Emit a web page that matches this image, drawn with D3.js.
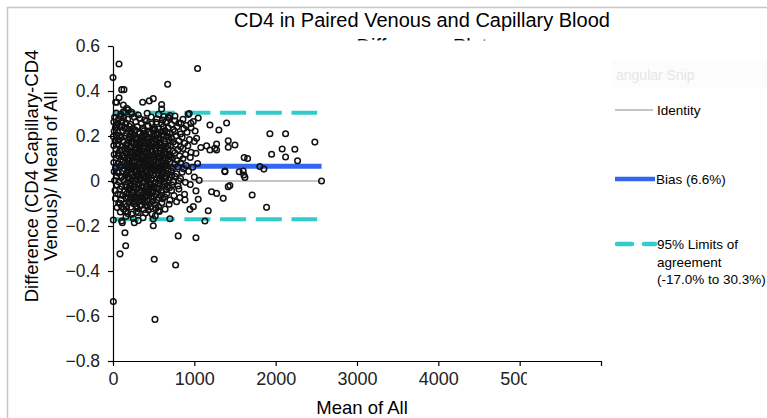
<!DOCTYPE html>
<html>
<head>
<meta charset="utf-8">
<script src="https://cdn.jsdelivr.net/npm/d3@7"></script>
<style>
  body { margin: 0; background: #fff; }
  svg { display: block; font-family: "Liberation Sans", Arial, sans-serif; }
</style>
</head>
<body>
<svg id="chart" width="767" height="418"></svg>
<script>
// Bland-Altman data: [mean of all, relative difference]
const points = [
  [0,0.46],[74,0.52],[107,0.406],[135,0.406],[45,0.35],[74,0.37],[33,0.35],
  [1040,0.50],[672,0.43],[365,0.35],[446,0.356],[495,0.366],[598,0.34],[598,0.32],
  [127,0.338],[168,0.323],[188,0.316],[230,0.305],[127,0.308],[98,0.286],
  [627,0.286],[679,0.283],[762,0.289],[835,0.256],[925,0.296],[958,0.256],[987,0.264],[1192,0.249],[1302,0.227],[1397,0.258],
  [45,0.249],[86,0.241],[937,0.30],[1048,0.28],
  [1929,0.21],[2122,0.21],[2482,0.173],[2080,0.142],[2236,0.141],[1950,0.119],[2122,0.107],[2269,0.09],
  [1613,0.104],[1655,0.10],[1806,0.064],[1855,0.053],[1376,0.044],[1552,0.041],[1601,0.044],[1609,0.027],[1622,0.016],
  [2564,0.0],[1437,-0.02],[1711,-0.062],[1888,-0.117],
  [1417,0.179],[1499,0.16],[1417,0.15],[1274,0.164],[1253,0.145],[1274,0.138],[1151,0.156],[1192,0.138],[1028,0.19],
  [4,-0.173],[115,-0.185],[262,-0.185],[311,-0.176],[495,-0.199],[147,-0.23],[156,-0.288],[86,-0.324],[507,-0.348],
  [770,-0.373],[802,-0.244],[1020,-0.252],[4,-0.536],[516,-0.615],
  [107,-0.178],[250,-0.166],[495,-0.169],[700,-0.168],[1130,-0.178],[1171,-0.132],[946,-0.126],[987,-0.114],
  [86,-0.099],[107,-0.114],[156,-0.136],[230,-0.148],[311,-0.141],[434,-0.129],[557,-0.132],
  [782,-0.092],[885,-0.084],[1048,-0.081],[1212,-0.048],[1274,-0.055],[1355,-0.077],[1417,-0.025],[1376,0.041],
  // main cluster
  [40,0.302],[95,0.296],[150,0.305],[230,0.298],[310,0.293],[420,0.301],[560,0.296],[700,0.291],
  [20,0.283],[70,0.276],[130,0.281],[180,0.274],[260,0.285],[330,0.278],[390,0.272],[470,0.284],[540,0.277],[610,0.271],[690,0.279],[760,0.268],[860,0.274],
  [10,0.262],[55,0.256],[110,0.265],[160,0.258],[215,0.252],[280,0.263],[350,0.257],[410,0.266],[480,0.254],[530,0.261],[600,0.255],[650,0.263],[720,0.251],[810,0.258],[900,0.247],
  [30,0.238],[85,0.244],[140,0.236],[200,0.243],[240,0.232],[300,0.241],[370,0.235],[430,0.246],[500,0.238],[560,0.231],[620,0.242],[680,0.236],[740,0.229],[790,0.241],[870,0.233],[960,0.237],
  [15,0.221],[60,0.215],[120,0.224],[170,0.212],[225,0.219],[275,0.226],[330,0.214],[380,0.222],[440,0.216],[490,0.225],[540,0.211],[590,0.219],[640,0.224],[700,0.213],[760,0.22],[830,0.209],[910,0.217],[1010,0.222],
  [5,0.198],[45,0.205],[100,0.193],[150,0.201],[200,0.196],[250,0.204],[300,0.191],[350,0.199],[400,0.206],[445,0.194],[510,0.2],[555,0.192],[610,0.203],[660,0.197],[720,0.189],[780,0.201],[850,0.195],[940,0.184],
  [25,0.178],[75,0.183],[130,0.174],[185,0.181],[230,0.176],[280,0.184],[325,0.172],[370,0.179],[420,0.186],[470,0.175],[520,0.182],[570,0.171],[630,0.178],[690,0.184],[740,0.173],[810,0.179],[880,0.168],[1000,0.176],
  [10,0.158],[60,0.163],[110,0.155],[160,0.161],[210,0.152],[255,0.164],[305,0.157],[350,0.162],[395,0.153],[450,0.159],[495,0.166],[545,0.154],[600,0.16],[650,0.151],[710,0.158],[770,0.163],[830,0.152],[920,0.157],[1080,0.149],
  [35,0.142],[85,0.136],[140,0.144],[190,0.138],[240,0.133],[290,0.145],[335,0.139],[380,0.131],[430,0.141],[475,0.136],[525,0.146],[580,0.134],[625,0.14],[680,0.143],[735,0.132],[800,0.139],[860,0.145],[960,0.128],
  [15,0.118],[65,0.124],[115,0.113],[165,0.121],[215,0.126],[265,0.115],[310,0.122],[360,0.117],[405,0.125],[455,0.112],[500,0.119],[550,0.124],[600,0.114],[655,0.121],[705,0.116],[760,0.125],[820,0.111],[890,0.118],[1020,0.123],
  [40,0.102],[95,0.097],[145,0.105],[195,0.094],[245,0.101],[290,0.106],[340,0.095],[385,0.103],[435,0.098],[480,0.107],[530,0.093],[575,0.1],[625,0.104],[680,0.096],[730,0.102],[790,0.091],[860,0.099],[950,0.105],
  [10,0.082],[60,0.077],[120,0.085],[170,0.079],[220,0.072],[270,0.084],[315,0.078],[365,0.086],[410,0.074],[460,0.081],[505,0.076],[555,0.083],[600,0.071],[650,0.079],[700,0.085],[760,0.075],[830,0.081],[900,0.069],[1040,0.078],
  [30,0.058],[85,0.064],[140,0.055],[190,0.062],[240,0.057],[290,0.065],[340,0.052],[390,0.06],[435,0.066],[485,0.054],[530,0.061],[580,0.057],[630,0.064],[680,0.051],[735,0.059],[795,0.063],[870,0.054],[980,0.061],
  [15,0.042],[65,0.036],[120,0.044],[175,0.038],[225,0.033],[270,0.045],[320,0.039],[365,0.031],[415,0.043],[460,0.037],[510,0.046],[560,0.034],[610,0.041],[660,0.035],[715,0.044],[780,0.032],[850,0.039],[930,0.043],
  [45,0.021],[100,0.016],[150,0.024],[200,0.013],[250,0.019],[300,0.026],[345,0.014],[395,0.022],[440,0.017],[490,0.025],[540,0.012],[590,0.02],[645,0.023],[700,0.015],[760,0.021],[830,0.011],[1000,0.018],
  [20,0.002],[75,-0.004],[130,0.005],[180,-0.006],[230,0.003],[280,-0.002],[330,0.006],[375,-0.005],[425,0.001],[470,0.004],[520,-0.007],[570,0.002],[625,-0.003],[680,0.005],[740,-0.004],[810,0.001],[890,-0.006],[1060,0.003],
  [50,-0.018],[105,-0.024],[155,-0.016],[210,-0.022],[260,-0.027],[310,-0.015],[360,-0.021],[410,-0.026],[455,-0.017],[505,-0.023],[555,-0.014],[610,-0.02],[665,-0.025],[725,-0.018],[800,-0.022],[950,-0.016],
  [25,-0.042],[85,-0.036],[140,-0.044],[190,-0.038],[240,-0.047],[290,-0.035],[340,-0.041],[390,-0.046],[440,-0.037],[490,-0.043],[540,-0.034],[595,-0.045],[650,-0.039],[720,-0.042],[810,-0.036],[1020,-0.044],
  [60,-0.058],[120,-0.064],[170,-0.056],[225,-0.062],[275,-0.067],[325,-0.055],[375,-0.061],[425,-0.066],[475,-0.054],[530,-0.06],[590,-0.063],[660,-0.057],[750,-0.065],[880,-0.059],
  [30,-0.078],[100,-0.084],[160,-0.076],[210,-0.082],[265,-0.087],[320,-0.075],[370,-0.081],[420,-0.086],[480,-0.077],[540,-0.083],[610,-0.079],[700,-0.085],[820,-0.074],
  [70,-0.098],[140,-0.104],[200,-0.096],[260,-0.102],[330,-0.107],[390,-0.095],[450,-0.101],[520,-0.106],[600,-0.097],[690,-0.103],
  [50,-0.118],[130,-0.124],[220,-0.116],[300,-0.122],[380,-0.127],[460,-0.115],[530,-0.121],[640,-0.125],
  [90,-0.138],[180,-0.144],[290,-0.136],[400,-0.142],[480,-0.147],[570,-0.135],
  [160,-0.158],[370,-0.163],[520,-0.155],
  [220,0.171],[270,0.148],[320,0.126],[360,0.108],[410,0.088],[470,0.068],[520,0.047],[570,0.109],[620,0.089],
  [260,0.066],[300,0.044],[350,0.028],[400,0.011],[450,-0.009],[500,-0.029],[280,0.193],[330,0.187],[380,0.167],
  [430,0.149],[480,0.129],[530,0.186],[580,0.168],[640,0.131],[690,0.112],[240,0.112],[200,0.088],[160,0.028],
  [210,-0.012],[250,-0.051],[300,-0.071],[350,-0.09],[420,-0.049],[470,-0.069],[550,-0.048],[600,0.028],[650,0.012],
  // dense core
  [165,0.232],[215,0.208],[265,0.224],[315,0.211],[365,0.229],[415,0.196],[465,0.213],[515,0.229],[565,0.207],[615,0.221],[665,0.214],
  [185,0.168],[235,0.189],[285,0.162],[335,0.173],[385,0.194],[435,0.171],[485,0.188],[535,0.163],[585,0.187],[635,0.165],[685,0.196],
  [175,0.131],[225,0.147],[275,0.127],[325,0.151],[375,0.142],[425,0.127],[475,0.152],[525,0.133],[575,0.148],[625,0.122],[675,0.157],
  [185,0.103],[235,0.086],[285,0.111],[335,0.083],[385,0.094],[445,0.117],[495,0.091],[545,0.104],[595,0.083],[645,0.097],[715,0.108],
  [165,0.068],[215,0.051],[265,0.047],[315,0.062],[365,0.049],[415,0.071],[455,0.052],[505,0.063],[555,0.048],[605,0.056],[665,0.068],
  [185,0.018],[235,0.026],[285,0.009],[325,0.021],[375,0.034],[425,0.026],[475,0.013],[525,0.029],[575,0.011],[625,0.035],[725,0.027],
  [165,-0.027],[215,-0.033],[265,-0.011],[315,-0.031],[365,-0.008],[415,-0.036],[465,-0.028],[515,-0.011],[565,-0.032],[635,-0.013],[695,-0.03],
  [185,-0.071],[235,-0.054],[285,-0.079],[345,-0.068],[395,-0.072],[445,-0.052],[505,-0.07],[565,-0.074],[635,-0.07],
  [170,-0.112],[240,-0.092],[290,-0.113],[355,-0.108],[420,-0.112],[490,-0.09],[560,-0.113],
  [110,0.135],[70,0.11],[95,0.07],[50,0.04],[110,0.02],[90,-0.06],[60,0.18],[115,0.245],[80,0.2]
];

const xTicks = [0, 1000, 2000, 3000, 4000, 5000, 6000];
const yTicks = [-0.8, -0.6, -0.4, -0.2, 0, 0.2, 0.4, 0.6];
const identityValue = 0;
const biasValue = 0.066;
const loaValues = [-0.170, 0.303];
const lineEnd = 2564;      // largest mean
const loaEnd = 2510;
const legendLabels = ["Identity", "Bias (6.6%)", ["95% Limits of", "agreement", "(-17.0% to 30.3%)"]];

const svg = d3.select("#chart");

svg.append("rect").attr("width", 767).attr("height", 418).attr("fill", "#fff");

// outer frame of the pasted chart
svg.append("path")
  .attr("d", "M7.5,418 V7.5 H767")
  .attr("fill", "none")
  .attr("stroke", "#c6c6c6")
  .attr("stroke-width", 1.5);

const x = d3.scaleLinear().domain([0, 6000]).range([113, 601]);
const y = d3.scaleLinear().domain([-0.8, 0.6]).range([361, 46]);

// title, second line is cut by the plot area
svg.append("text")
  .attr("x", 422).attr("y", 27)
  .attr("text-anchor", "middle")
  .style("font-size", "20px")
  .text("CD4 in Paired Venous and Capillary Blood");

svg.append("clipPath").attr("id", "titleClip")
  .append("rect").attr("x", 0).attr("y", 0).attr("width", 767).attr("height", 40.5);

svg.append("text")
  .attr("clip-path", "url(#titleClip)")
  .attr("x", 422).attr("y", 53)
  .attr("text-anchor", "middle")
  .style("font-size", "20px")
  .text("Difference Plot");

// faint snipping-tool overlay
svg.append("rect")
  .attr("x", 612).attr("y", 61).attr("width", 155).attr("height", 27)
  .attr("fill", "#fcfcfc");
svg.append("text")
  .attr("x", 616).attr("y", 80)
  .style("font-size", "14px")
  .style("fill", "#e6e6e6")
  .text("angular Snip");

// reference lines
const line = d3.line().x(d => x(d[0])).y(d => y(d[1]));

svg.append("path")
  .attr("d", line([[0, identityValue], [lineEnd, identityValue]]))
  .attr("stroke", "#8c8c8c").attr("stroke-width", 1).attr("fill", "none");

svg.append("path")
  .attr("d", line([[0, biasValue], [lineEnd, biasValue]]))
  .attr("stroke", "#3366ee").attr("stroke-width", 5).attr("fill", "none");

loaValues.forEach(v => {
  svg.append("path")
    .attr("d", line([[0, v], [loaEnd, v]]))
    .attr("stroke", "#33cccc").attr("stroke-width", 4)
    .attr("stroke-dasharray", "26,9.7")
    .attr("fill", "none");
});

// points
svg.append("g")
  .selectAll("circle")
  .data(points)
  .enter().append("circle")
  .attr("cx", d => x(d[0]))
  .attr("cy", d => y(d[1]))
  .attr("r", 2.8)
  .attr("fill", "none")
  .attr("stroke", "#111")
  .attr("stroke-width", 1.5);

// axes
const yAxis = svg.append("g")
  .attr("transform", `translate(${x(0)},0)`)
  .call(d3.axisLeft(y).tickValues(yTicks).tickSize(5).tickSizeOuter(0)
    .tickFormat(d => d === 0 ? "0" : d3.format(".1f")(d)));
yAxis.selectAll("text").style("font-size", "17.5px").attr("x", -13);

// the 5000 label is cut off in the original, keep tick marks whole
const xClip = svg.append("clipPath").attr("id", "xAxisClip");
xClip.append("rect").attr("x", 0).attr("y", -10).attr("width", 767).attr("height", 18);
xClip.append("rect").attr("x", 0).attr("y", -10).attr("width", 527).attr("height", 60);

const xAxis = svg.append("g")
  .attr("transform", `translate(0,${y(-0.8)})`)
  .attr("clip-path", "url(#xAxisClip)")
  .call(d3.axisBottom(x).tickValues(xTicks).tickSize(5).tickSizeOuter(0)
    .tickFormat(d => d === 6000 ? "" : d));
xAxis.selectAll("text").style("font-size", "18px").attr("y", 11);
svg.selectAll(".domain, .tick line").attr("stroke", "#000").attr("stroke-width", 1.2);
svg.selectAll(".tick text").attr("fill", "#222");

// axis titles
svg.append("text")
  .attr("x", 362).attr("y", 414)
  .attr("text-anchor", "middle")
  .style("font-size", "18.5px")
  .text("Mean of All");

const yTitle = svg.append("text")
  .attr("transform", "translate(38,176) rotate(-90)")
  .attr("text-anchor", "middle")
  .style("font-size", "18.5px");
yTitle.append("tspan").attr("x", 0).attr("dy", 0).text("Difference (CD4 Capillary-CD4");
yTitle.append("tspan").attr("x", 0).attr("dy", 19).text("Venous)/ Mean of All");

// legend
const legend = svg.append("g").style("font-size", "13.5px");
legend.append("line").attr("x1", 615).attr("x2", 653).attr("y1", 110).attr("y2", 110)
  .attr("stroke", "#8c8c8c").attr("stroke-width", 1);
legend.append("text").attr("x", 657).attr("y", 115).text(legendLabels[0]);

legend.append("line").attr("x1", 615).attr("x2", 655).attr("y1", 179).attr("y2", 179)
  .attr("stroke", "#3366ee").attr("stroke-width", 4.5);
legend.append("text").attr("x", 656).attr("y", 184).text(legendLabels[1]);

legend.append("line").attr("x1", 617).attr("x2", 655).attr("y1", 244).attr("y2", 244)
  .attr("stroke", "#33cccc").attr("stroke-width", 4.5)
  .attr("stroke-linecap", "round")
  .attr("stroke-dasharray", "15,12");
legendLabels[2].forEach((t, i) => {
  legend.append("text").attr("x", 657).attr("y", 249 + i * 17.5).text(t);
});
</script>
</body>
</html>
